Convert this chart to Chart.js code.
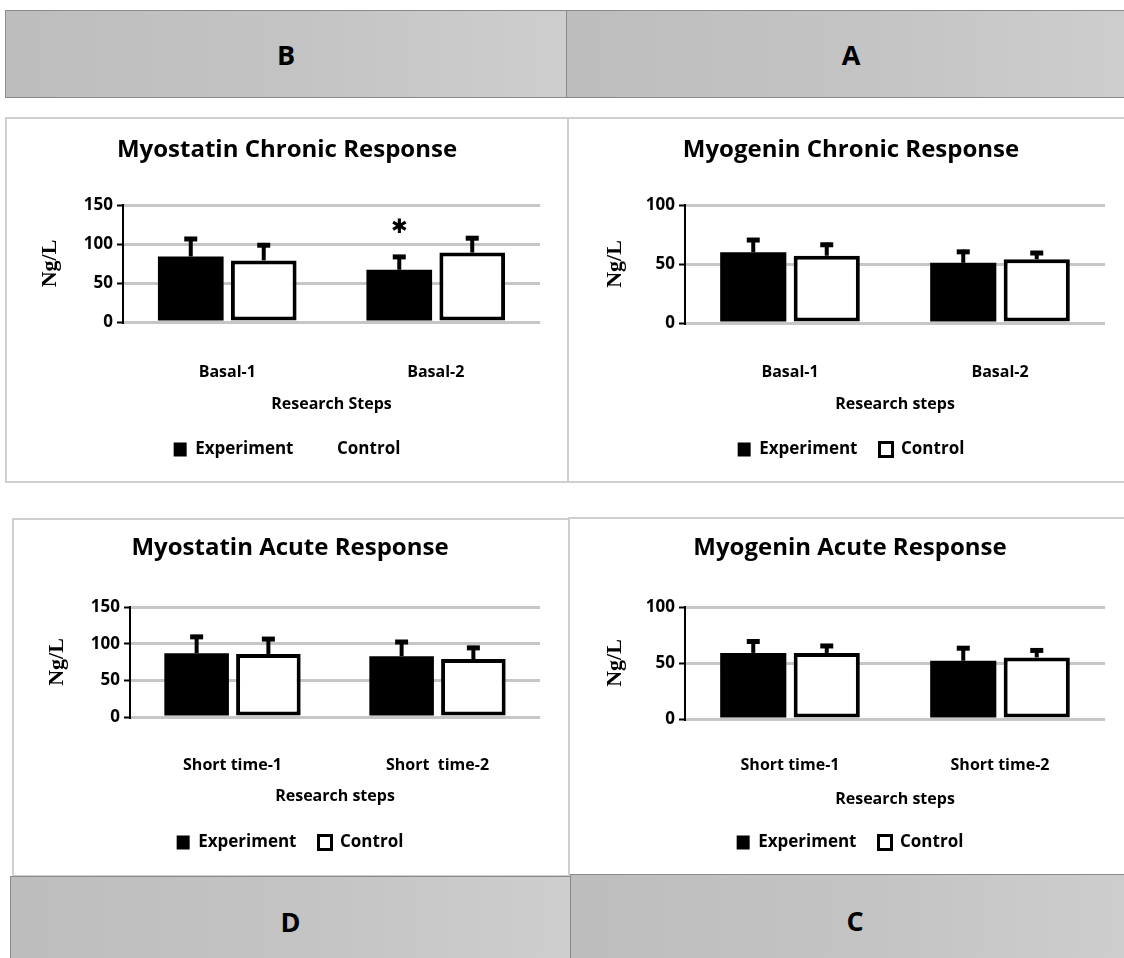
<!DOCTYPE html>
<html>
<head>
<meta charset="utf-8">
<script src="https://cdn.jsdelivr.net/npm/chart.js@4.4.0/dist/chart.umd.min.js"></script>
<style>
  body { margin: 0; width: 1124px; height: 958px; position: relative; overflow: hidden; background: #fff; }
  .header {
    position: absolute; box-sizing: border-box; border: 1px solid #8a8a8a;
    background: linear-gradient(to right, #bdbdbd 0%, #c4c4c4 55%, #cecece 100%);
    display: flex; align-items: center; justify-content: center;
    font-family: 'Open Sans', sans-serif; font-weight: bold; font-size: 27px; color: #000;
  }
  .panel { position: absolute; box-sizing: border-box; border: 2px solid #cfcfcf; background: #fff; }
  canvas { position: absolute; }
</style>
</head>
<body>
<div class="header" style="left:5px;top:10px;width:562px;height:88px">B</div>
<div class="header" style="left:566px;top:10px;width:570px;height:88px">A</div>

<div class="panel" style="left:5px;top:117px;width:564px;height:366px"></div>
<div class="panel" style="left:567px;top:117px;width:570px;height:366px"></div>
<div class="panel" style="left:12px;top:518px;width:558px;height:359px"></div>
<div class="panel" style="left:568px;top:517px;width:570px;height:359px"></div>

<div class="header" style="left:10px;top:876px;width:561px;height:90px">D</div>
<div class="header" style="left:570px;top:874px;width:570px;height:92px">C</div>

<canvas id="myostatinChronic" width="560" height="362" style="left:7px;top:119px"></canvas>
<canvas id="myogeninChronic" width="553" height="362" style="left:571px;top:119px"></canvas>
<canvas id="myostatinAcute" width="552" height="354" style="left:14px;top:520px"></canvas>
<canvas id="myogeninAcute" width="554" height="354" style="left:570px;top:519px"></canvas>

<script>
// Kategori dan label sumbu
const chronicSteps = ['Basal-1', 'Basal-2'];
const acuteStepsMyostatin = ['Short time-1', 'Short  time-2'];
const acuteStepsMyogenin = ['Short time-1', 'Short time-2'];
const seriesNames = ['Experiment', 'Control'];
const myostatinTicks = [0, 50, 100, 150];
const myogeninTicks = [0, 50, 100];

// Myostatin chronic (B)
const myostatinChronicExp = [84, 67];
const myostatinChronicExpSD = [25, 19];
const myostatinChronicCtrl = [79, 89];
const myostatinChronicCtrlSD = [22, 21];
const myostatinChronicExpMark = ['', '\u2731'];

// Myogenin chronic (A)
const myogeninChronicExp = [60, 51];
const myogeninChronicExpSD = [12, 11];
const myogeninChronicCtrl = [57, 54];
const myogeninChronicCtrlSD = [11, 7];

// Myostatin acute (D)
const myostatinAcuteExp = [87, 83];
const myostatinAcuteExpSD = [25, 22];
const myostatinAcuteCtrl = [86, 79];
const myostatinAcuteCtrlSD = [23, 18];

// Myogenin acute (C)
const myogeninAcuteExp = [59, 52];
const myogeninAcuteExpSD = [12, 13];
const myogeninAcuteCtrl = [59, 55];
const myogeninAcuteCtrlSD = [8, 8];

const FONT = "'Open Sans', sans-serif";

// Plugin untuk error bar dan tanda bintang
const errorBarPlugin = {
  id: 'errorBars',
  afterDatasetsDraw(chart) {
    const ctx = chart.ctx;
    const y = chart.scales.y;
    chart.data.datasets.forEach((ds, i) => {
      const meta = chart.getDatasetMeta(i);
      meta.data.forEach((bar, j) => {
        const top = y.getPixelForValue(ds.data[j] + ds.errors[j]);
        ctx.save();
        ctx.strokeStyle = '#000';
        ctx.lineWidth = 4;
        ctx.beginPath();
        ctx.moveTo(bar.x, bar.y);
        ctx.lineTo(bar.x, top);
        ctx.stroke();
        ctx.lineWidth = 5;
        ctx.beginPath();
        ctx.moveTo(bar.x - 6.5, top + 2);
        ctx.lineTo(bar.x + 6.5, top + 2);
        ctx.stroke();
        if (ds.marks && ds.marks[j]) {
          ctx.fillStyle = '#000';
          ctx.font = "bold 20px 'DejaVu Sans'";
          ctx.textAlign = 'center';
          ctx.textBaseline = 'middle';
          ctx.fillText(ds.marks[j], bar.x, top - 27);
        }
        ctx.restore();
      });
    });
  }
};

function drawResponseChart(id, cfg) {
  const canvas = document.getElementById(id);
  const W = canvas.width, H = canvas.height;
  const L = cfg.layout;
  const titleSize = 24, titleLH = titleSize * 1.2;
  const labelLH = 16 * 1.2;
  const yTitleLH = 22 * 1.2;
  const legendPad = 22;
  const legendTop = L.legendY - legendPad - 8;
  const padRight = W - L.plotRight;
  const padLeft = 2 * L.legendX - W + padRight;

  new Chart(canvas.getContext('2d'), {
    type: 'bar',
    data: {
      labels: cfg.labels,
      datasets: [{
        label: seriesNames[0],
        data: cfg.exp,
        errors: cfg.expSD,
        marks: cfg.marks,
        backgroundColor: '#000',
        borderWidth: 0,
        legendStroke: '#000',
        legendLine: 0
      }, {
        label: seriesNames[1],
        data: cfg.ctrl,
        errors: cfg.ctrlSD,
        backgroundColor: '#fff',
        borderColor: '#000',
        borderWidth: 4,
        borderSkipped: false,
        legendStroke: '#000',
        legendLine: cfg.hideControlBox ? 0 : 3
      }]
    },
    options: {
      responsive: false,
      animation: false,
      events: [],
      layout: { padding: { top: 0, left: padLeft, right: padRight, bottom: H - legendTop - (16 + legendPad + 10) } },
      datasets: { bar: { categoryPercentage: 0.7, barPercentage: 0.9 } },
      plugins: {
        title: {
          display: true,
          text: cfg.title,
          color: '#000',
          font: { family: FONT, size: titleSize, weight: 'bold' },
          padding: { top: L.titleY - titleLH / 2, bottom: L.plotTop - L.titleY - titleLH / 2 }
        },
        legend: {
          position: 'bottom',
          labels: {
            color: '#000',
            font: { family: FONT, size: 17, weight: 'bold' },
            boxWidth: 13,
            boxHeight: 14,
            padding: legendPad,
            generateLabels(chart) {
              return chart.data.datasets.map((ds, i) => ({
                text: ds.label,
                fillStyle: ds.backgroundColor,
                strokeStyle: ds.legendStroke,
                lineWidth: ds.legendLine,
                hidden: false,
                datasetIndex: i,
                fontColor: '#000'
              }));
            }
          }
        },
        tooltip: { enabled: false }
      },
      scales: {
        x: {
          grid: { display: false },
          border: { display: false },
          ticks: { color: '#000', font: { family: FONT, size: 16, weight: 'bold' }, padding: L.catY - L.plotBottom - labelLH / 2 - 7 },
          title: {
            display: true,
            text: cfg.xTitle,
            color: '#000',
            font: { family: FONT, size: 16, weight: 'bold' },
            padding: { top: 0, bottom: legendTop - L.xTitleY - labelLH / 2 }
          },
          afterFit(scale) { scale.height = legendTop - L.plotBottom; }
        },
        y: {
          min: cfg.ticks[0],
          max: cfg.ticks[cfg.ticks.length - 1],
          afterBuildTicks(scale) { scale.ticks = cfg.ticks.map(v => ({ value: v })); },
          grid: { color: '#c6c6c6', lineWidth: 3, tickColor: '#000', tickLength: 6, tickWidth: 2 },
          border: { display: true, color: '#000', width: 2 },
          ticks: { color: '#000', font: { family: FONT, size: 17, weight: 'bold' }, padding: 4 },
          title: {
            display: true,
            text: 'Ng/L',
            color: '#000',
            font: { family: "'Liberation Serif', serif", size: 22, weight: 'bold' },
            padding: { top: L.yTitleX - padLeft - yTitleLH / 2, bottom: 0 }
          },
          afterFit(scale) { scale.width = L.plotLeft - padLeft; }
        }
      }
    },
    plugins: [errorBarPlugin]
  });
}

document.addEventListener('DOMContentLoaded', () => {
  drawResponseChart('myostatinChronic', {
    title: 'Myostatin Chronic Response', xTitle: 'Research Steps',
    labels: chronicSteps, ticks: myostatinTicks,
    exp: myostatinChronicExp, expSD: myostatinChronicExpSD, marks: myostatinChronicExpMark,
    ctrl: myostatinChronicCtrl, ctrlSD: myostatinChronicCtrlSD, hideControlBox: true,
    layout: { plotLeft: 116, plotRight: 533, plotTop: 86, plotBottom: 204, titleY: 31, catY: 253, xTitleY: 286, legendY: 331, yTitleX: 43, legendX: 280 }
  });
  drawResponseChart('myogeninChronic', {
    title: 'Myogenin Chronic Response', xTitle: 'Research steps',
    labels: chronicSteps, ticks: myogeninTicks,
    exp: myogeninChronicExp, expSD: myogeninChronicExpSD,
    ctrl: myogeninChronicCtrl, ctrlSD: myogeninChronicCtrlSD,
    layout: { plotLeft: 114, plotRight: 534, plotTop: 86, plotBottom: 205, titleY: 31, catY: 253, xTitleY: 286, legendY: 331, yTitleX: 44, legendX: 280 }
  });
  drawResponseChart('myostatinAcute', {
    title: 'Myostatin Acute Response', xTitle: 'Research steps',
    labels: acuteStepsMyostatin, ticks: myostatinTicks,
    exp: myostatinAcuteExp, expSD: myostatinAcuteExpSD,
    ctrl: myostatinAcuteCtrl, ctrlSD: myostatinAcuteCtrlSD,
    layout: { plotLeft: 116, plotRight: 526, plotTop: 87, plotBottom: 198, titleY: 28, catY: 245, xTitleY: 277, legendY: 323, yTitleX: 43, legendX: 276 }
  });
  drawResponseChart('myogeninAcute', {
    title: 'Myogenin Acute Response', xTitle: 'Research steps',
    labels: acuteStepsMyogenin, ticks: myogeninTicks,
    exp: myogeninAcuteExp, expSD: myogeninAcuteExpSD,
    ctrl: myogeninAcuteCtrl, ctrlSD: myogeninAcuteCtrlSD,
    layout: { plotLeft: 115, plotRight: 535, plotTop: 88, plotBottom: 201, titleY: 29, catY: 246, xTitleY: 281, legendY: 324, yTitleX: 45, legendX: 280 }
  });
});
</script>
</body>
</html>
